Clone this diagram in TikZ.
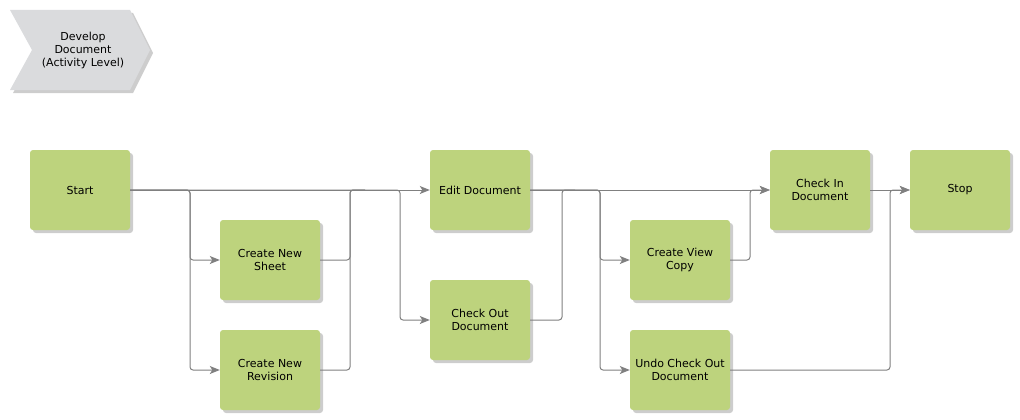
\documentclass[tikz,border=0pt]{standalone}
\usepackage{fontspec}
\setmainfont{DejaVu Sans}
\usetikzlibrary{arrows.meta,shadows}
\definecolor{boxgreen}{RGB}{189,211,125}
\definecolor{chevgray}{RGB}{218,219,221}
\definecolor{linegray}{RGB}{128,128,128}
\definecolor{shadowgray}{RGB}{205,205,205}
\tikzset{
  box/.style={draw=none, fill=boxgreen, rounded corners=3pt, minimum width=100pt, minimum height=80pt,
    inner sep=0pt, align=center, font=\fontsize{11}{13}\selectfont,
    drop shadow={shadow xshift=3pt, shadow yshift=-3pt, fill=shadowgray, opacity=1}},
  conn/.style={draw=linegray, line width=1pt, rounded corners=3pt},
  arr/.style={conn, -{Stealth[length=10pt,width=8pt,inset=2.5pt]}},
}
\begin{document}
\begin{tikzpicture}[x=1pt,y=-1pt]
\useasboundingbox (0,0) rectangle (1020,420);
% title chevron
\fill[shadowgray] (13,13) -- (133,13) -- (153,53) -- (133,93) -- (13,93) -- (35,53) -- cycle;
\fill[chevgray] (10,10) -- (130,10) -- (150,50) -- (130,90) -- (10,90) -- (32,50) -- cycle;
\node[align=center, font=\fontsize{11}{13}\selectfont, inner sep=0pt] (title) at (83,50) {Develop\\Document\\(Activity Level)};
% nodes
\node[box] (start) at (80,190) {Start};
\node[box] (sheet) at (270,260) {Create New\\Sheet};
\node[box] (rev) at (270,370) {Create New\\Revision};
\node[box] (edit) at (480,190) {Edit Document};
\node[box] (cout) at (480,320) {Check Out\\Document};
\node[box] (view) at (680,260) {Create View\\Copy};
\node[box] (undo) at (680,370) {Undo Check Out\\Document};
\node[box] (cin) at (820,190) {Check In\\Document};
\node[box] (stop) at (960,190) {Stop};
% junctions
\coordinate (j1) at (190,190);
\coordinate (m1) at (350,190);
\coordinate (m1e) at (365,190);
\coordinate (j2) at (400,190);
\coordinate (m2) at (562,190);
\coordinate (m2e) at (575,190);
\coordinate (j3) at (600,190);
\coordinate (m3) at (750,190);
\coordinate (m4) at (890,190);
% connectors
\draw[arr] (start.east) -- (edit.west);
\draw[arr] (start.east) -- (j1) |- (sheet.west);
\draw[arr] (start.east) -- (j1) |- (rev.west);
\draw[conn] (sheet.east) -| (m1) -- (m1e);
\draw[conn] (rev.east) -| (m1) -- (m1e);
\draw[arr] (start.east) -- (j2) |- (cout.west);
\draw[arr] (edit.east) -- (cin.west);
\draw[conn] (cout.east) -| (m2) -- (m2e);
\draw[arr] (edit.east) -- (j3) |- (view.west);
\draw[arr] (edit.east) -- (j3) |- (undo.west);
\draw[arr] (view.east) -| (m3) -- (cin.west);
\draw[arr] (cin.east) -- (stop.west);
\draw[arr] (undo.east) -| (m4) -- (stop.west);
\end{tikzpicture}
\end{document}
